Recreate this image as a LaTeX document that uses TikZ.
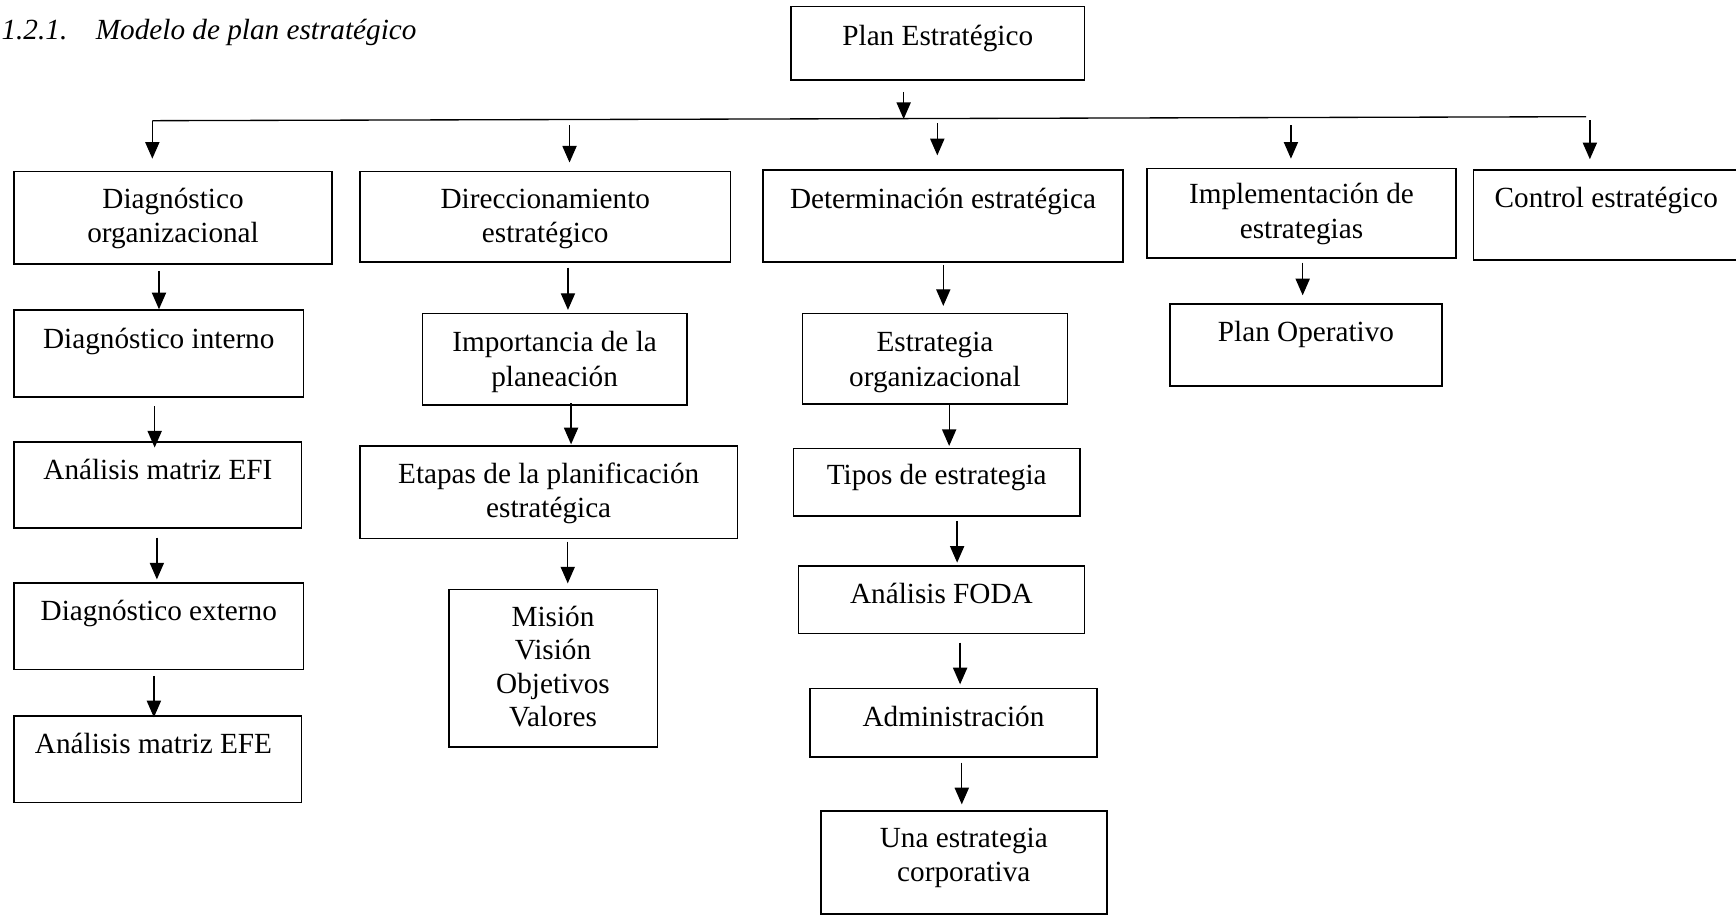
\documentclass[tikz,border=0pt]{standalone}
\usepackage{fontspec}
\setmainfont{Liberation Serif}
\usetikzlibrary{arrows.meta,fit}
\begin{document}
\begin{tikzpicture}[x=0.5pt,y=-0.5pt,
  bx/.style={draw, line width=0.7pt, inner sep=0pt},
  lbl/.style={font=\fontsize{13.2pt}{15.5pt}\selectfont, align=center, inner sep=0pt, anchor=base},
  arr/.style={line width=0.6pt, -{Triangle[width=6.4pt,length=7.5pt]}},
  ln/.style={line width=0.6pt}]
\useasboundingbox (0,0) rectangle (1568,826);

% title
\node[lbl, anchor=base west, font=\itshape\fontsize{13.2pt}{15.5pt}\selectfont] (title) at (1,35.5) {1.2.1.\hspace{12.9pt}Modelo de plan estratégico};

% boxes
\node[bx, fit={(714.2,6) (979.7,72.3)}] (plan) {};
\node[bx, fit={(12.6,155) (300,238.5)}] (diag) {};
\node[bx, fit={(325,155) (660,236.7)}] (dir) {};
\node[bx, fit={(689,153.6) (1014.5,236.7)}] (det) {};
\node[bx, fit={(1036,152) (1315,233)}] (imp) {};
\node[bx, fit={(1331,153.6) (1574,235)}] (ctl) {};
\node[bx, fit={(1056.7,274.6) (1302.6,348.4)}] (po) {};
\node[bx, fit={(12.8,280) (274,358.6)}] (dint) {};
\node[bx, fit={(12.8,399) (272.4,477)}] (efi) {};
\node[bx, fit={(12.8,526.4) (274,604.5)}] (dext) {};
\node[bx, fit={(12.8,646.8) (272.4,725)}] (efe) {};
\node[bx, fit={(381.5,283) (620.3,366)}] (impo) {};
\node[bx, fit={(325.2,402.6) (666,486.3)}] (eta) {};
\node[bx, fit={(405.6,532.4) (593.8,674.5)}] (mis) {};
\node[bx, fit={(725,283) (964,365)}] (eorg) {};
\node[bx, fit={(716.6,405) (975.6,466)}] (tipos) {};
\node[bx, fit={(721.2,511) (979.5,572.1)}] (foda) {};
\node[bx, fit={(731.7,621.8) (990.7,683.5)}] (adm) {};
\node[bx, fit={(741.4,732.3) (999.7,825.3)}] (una) {};

% texts (multi-line nodes are placed by the baseline of their last line)
\node[lbl] (t-plan) at (847,40.7) {Plan Estratégico};
\node[lbl] (t-diag) at (156.3,219) {Diagnóstico\\organizacional};
\node[lbl] (t-dir) at (492.5,219) {Direccionamiento\\estratégico};
\node[lbl] (t-det) at (851.7,188) {Determinación estratégica};
\node[lbl] (t-imp) at (1175.5,215) {Implementación de\\estrategias};
\node[lbl] (t-ctl) at (1450.8,187.3) {Control estratégico};
\node[lbl] (t-po) at (1179.6,308.6) {Plan Operativo};
\node[lbl] (t-dint) at (143.4,314.5) {Diagnóstico interno};
\node[lbl] (t-efi) at (142.6,432.7) {Análisis matriz EFI};
\node[lbl] (t-dext) at (143.4,560.7) {Diagnóstico externo};
\node[lbl] (t-efe) at (138.6,680.5) {Análisis matriz EFE};
\node[lbl] (t-impo) at (500.9,348.7) {Importancia de la\\planeación};
\node[lbl] (t-eta) at (495.6,467.3) {Etapas de la planificación\\estratégica};
\node[lbl, font=\fontsize{13.2pt}{15.1pt}\selectfont] (t-mis) at (499.5,656.4) {Misión\\Visión\\Objetivos\\Valores};
\node[lbl] (t-eorg) at (844.5,348.7) {Estrategia\\organizacional};
\node[lbl] (t-tipos) at (846.1,438) {Tipos de estrategia};
\node[lbl] (t-foda) at (850.3,545) {Análisis FODA};
\node[lbl] (t-adm) at (861.2,656.4) {Administración};
\node[lbl] (t-una) at (870.5,796.4) {Una estrategia\\corporativa};

% bus
\coordinate (bL) at (137.6,109);
\coordinate (bR) at (1432.7,105.4);
\coordinate (xP) at (816.2,0);
\coordinate (x2) at (514.4,0);
\coordinate (x3) at (846.6,0);
\coordinate (x4) at (1166,0);
\coordinate (x5) at (1436,0);
\draw[ln] (bL) -- (bR);
\draw[arr, shorten <=4.95pt, shorten >=0.75pt] (xP |- plan.south) -- (xP |- bL);
\draw[arr, shorten >=5.5pt] (bL) -- (bL |- diag.north);
\draw[arr, shorten <=2pt, shorten >=3.75pt] (x2 |- bL) -- (x2 |- dir.north);
\draw[arr, shorten <=1.2pt, shorten >=6.3pt] (x3 |- bL) -- (x3 |- det.north);
\draw[arr, shorten <=2pt, shorten >=4pt] (x4 |- bL) -- (x4 |- imp.north);
\draw[arr, shorten <=1.5pt, shorten >=4.55pt] (x5 |- bR) -- (x5 |- ctl.north);

% column 1
\coordinate (c1a) at (143.6,0);
\coordinate (c1b) at (139.7,0);
\coordinate (c1c) at (141.7,0);
\coordinate (c1d) at (139,0);
\draw[arr, shorten <=2.7pt] (c1a |- diag.south) -- (c1a |- dint.north);
\draw[arr, shorten <=3.7pt, shorten >=-2.95pt] (c1b |- dint.south) -- (c1b |- efi.north);
\draw[arr, shorten <=3.9pt, shorten >=1.2pt] (c1c |- efi.south) -- (c1c |- dext.north);
\draw[arr, shorten <=2.65pt, shorten >=-0.9pt] (c1d |- dext.south) -- (c1d |- efe.north);

% column 2
\coordinate (c2a) at (513,0);
\coordinate (c2b) at (515.8,0);
\coordinate (c2c) at (512.8,0);
\draw[arr, shorten <=2.15pt, shorten >=1.2pt] (c2a |- dir.south) -- (c2a |- impo.north);
\draw[arr, shorten <=-1.15pt, shorten >=0.3pt] (c2b |- impo.south) -- (c2b |- eta.north);
\draw[arr, shorten <=1.05pt, shorten >=2.4pt] (c2c |- eta.south) -- (c2c |- mis.north);

% column 3
\coordinate (c3a) at (852,0);
\coordinate (c3b) at (857.3,0);
\coordinate (c3c) at (864.5,0);
\coordinate (c3d) at (867.2,0);
\coordinate (c3e) at (868.7,0);
\draw[arr, shorten <=0.9pt, shorten >=3pt] (c3a |- det.south) -- (c3a |- eorg.north);
\draw[arr, shorten >=0.75pt] (c3b |- eorg.south) -- (c3b |- tipos.north);
\draw[arr, shorten <=1.85pt, shorten >=1.05pt] (c3c |- tipos.south) -- (c3c |- foda.north);
\draw[arr, shorten <=3.8pt, shorten >=1.5pt] (c3d |- foda.south) -- (c3d |- adm.north);
\draw[arr, shorten <=2.25pt, shorten >=2.55pt] (c3e |- adm.south) -- (c3e |- una.north);

% column 4
\coordinate (c4) at (1176.6,0);
\draw[arr, shorten <=1.7pt, shorten >=3.6pt] (c4 |- imp.south) -- (c4 |- po.north);
\end{tikzpicture}
\end{document}
